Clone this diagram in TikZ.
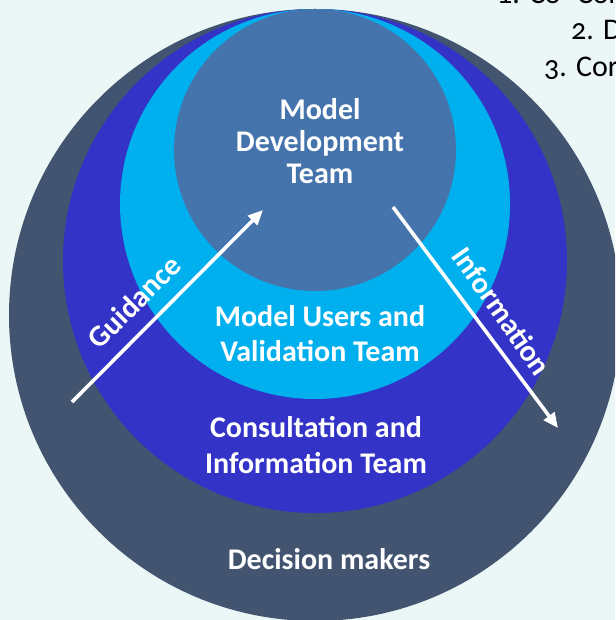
\documentclass[tikz,border=0pt]{standalone}
\usepackage{fontspec}
\setmainfont{Carlito}[Numbers=OldStyle]
\usetikzlibrary{arrows.meta}
\definecolor{bgc}{HTML}{EBF7F7}
\definecolor{outerc}{HTML}{42546F}
\definecolor{bluec}{HTML}{3333C8}
\definecolor{cyanc}{HTML}{00B0EE}
\definecolor{innerc}{HTML}{4574AC}
\tikzset{
  lbl/.style={text=white, font=\fontsize{30}{33}\selectfont\bfseries, align=center, inner sep=0pt},
  side/.style={text=white, font=\fontsize{30}{33}\selectfont\bfseries, inner sep=0pt},
  toptext/.style={text=black, font=\fontsize{30}{34}\selectfont, anchor=base west, inner sep=0pt},
  arr/.style={draw=white, line width=3.6pt, -{Triangle[length=15pt,width=13pt]}},
}
\begin{document}
\begin{tikzpicture}[x=1pt,y=-1pt]
\useasboundingbox (0,0) rectangle (615,620);
\clip (0,0) rectangle (615,620);
\fill[bgc] (0,0) rectangle (615,620);
% circles
\fill[outerc] (315,315) circle (306);
\fill[bluec] (315,261) circle (252);
\fill[cyanc] (315,204) circle (195);
\fill[innerc] (315,150) circle (141);
% top-right text (clipped)
\node[toptext] (t1) at (497,4) {1. Co- Cor};
\node[toptext] (t2) at (571,40) {2. D};
\node[toptext] (t3) at (544,77) {3. Cor};
% labels
\node[lbl] (mdt) at (320,141) {Model\\[-1pt]Development\\[-1pt]Team};
\node[lbl, font=\fontsize{30}{35}\selectfont\bfseries] (muv) at (320,334) {Model Users and\\Validation Team};
\node[lbl, font=\fontsize{30}{36}\selectfont\bfseries] (cit) at (316,445) {Consultation and\\Information Team};
\node[lbl] (dm) at (329,559) {Decision makers};
% arrows
\coordinate (g0) at (72,402);
\coordinate (g1) at (263,210);
\coordinate (i0) at (393,207);
\coordinate (i1) at (558,428);
\draw[arr] (g0) -- (g1);
\draw[arr] (i0) -- (i1);
\node[side, rotate=45] (guid) at (134,302) {Guidance};
\node[side, rotate=-55] (info) at (502,311) {Information};
\end{tikzpicture}
\end{document}
